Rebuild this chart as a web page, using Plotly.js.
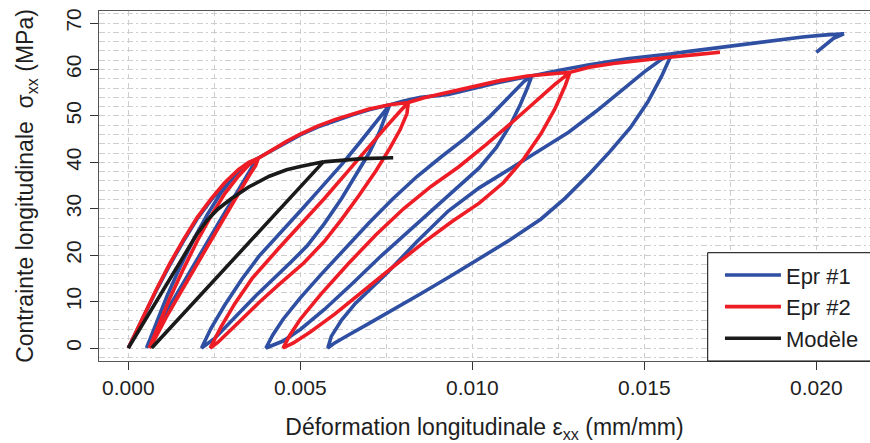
<!DOCTYPE html>
<html><head><meta charset="utf-8">
<script src="https://cdn.plot.ly/plotly-3.0.1.min.js"></script>
<style>html,body{margin:0;padding:0;background:#fff}#c{width:870px;height:443px}</style>
</head><body><div id="c"></div>
<script>
// Epr #1 (blue) path: envelope + 4 unload/reload loops + final hook
const epr1Strain = [0,0.0004,0.0008,0.0012,0.0016,0.0020,0.0024,0.0028,0.0032,0.0035,0.0037,
 0.0036,0.0034,0.0030,0.0026,0.0022,0.0018,0.00136,0.0010,0.0008,0.00065,0.00053,
 0.0007,0.0009,0.00112,0.0015,0.0019,0.0023,0.0027,0.0031,0.0034,0.0037,
 0.0042,0.0046,0.0050,0.0055,0.0060,0.0065,0.0070,0.0076,
 0.0075,0.0073,0.0070,0.0066,0.0062,0.0057,0.0052,0.0047,0.0042,0.0037,0.0032,0.0028,0.0025,0.00213,
 0.0024,0.0028,0.0033,0.0038,0.0044,0.0050,0.0056,0.0062,0.0067,0.0071,0.0074,0.0076,
 0.0080,0.0085,0.0093,0.0100,0.0107,0.0113,0.01173,
 0.0116,0.0114,0.0111,0.0107,0.0102,0.0096,0.0089,0.0081,0.0073,0.0065,0.0057,0.0050,0.0045,0.0040,
 0.0042,0.0045,0.0050,0.0056,0.0063,0.0070,0.0077,0.0084,0.0091,0.0098,0.0105,0.0111,0.0115,0.01173,
 0.0125,0.0134,0.0145,0.0158,
 0.0155,0.0151,0.0146,0.0140,0.0134,0.0127,0.0120,0.0111,0.0103,0.00935,0.0085,0.0077,0.0070,0.0064,0.0060,0.0058,
 0.0059,0.0062,0.0066,0.0075,0.0084,0.0093,0.0102,0.0111,0.0120,0.0128,0.0136,0.0144,0.0150,0.0155,0.0158,
 0.0163,0.0170,0.0177,0.0184,0.0190,0.0196,0.0202,0.0208,
 0.0205,0.0202,0.0200];
const epr1Stress = [0,6.2,12.2,17.8,23,27.8,31.8,35.3,38.1,39.8,40.5,
 39.0,36.6,31.6,26.6,21.6,16.5,11.1,6.5,3.6,1.4,0,
 3.2,7,11.1,17.4,23.4,28.8,33.5,37.2,39.4,40.6,
 42.6,44.3,45.9,47.6,49.0,50.2,51.3,52.4,
 50.5,46.5,42,37,32.2,26.8,22,18.3,14.8,11.2,7.4,4.3,2.0,0,
 4.2,9.2,14.8,19.8,24.6,29.5,34.5,39.5,44,47.6,50.4,52.4,
 53.2,54.0,54.6,55.9,57.1,58.0,58.6,
 56,52.5,48,43.2,38.8,34.8,30.3,25,19.5,13.8,8.3,4,1.5,0,
 2.8,6.2,10.8,15.8,21.5,27,32.2,37,41.2,45.2,49.8,54.5,57.4,58.6,
 59.8,61.0,62.3,63.4,
 58.5,53,47.5,42.3,37.5,32.3,27.8,23.3,19.6,15.4,11.7,8.2,5.3,2.8,1.1,0,
 2.5,6.0,9.6,16,23,29.5,34.5,38.6,42.8,46.5,51,56,59.5,62.2,63.4,
 63.9,64.6,65.2,65.8,66.4,67.0,67.4,67.7,
 66.7,65.0,63.7];

// Epr #2 (red) path
const epr2Strain = [0,0.0004,0.0008,0.0012,0.0016,0.0020,0.0024,0.0028,0.0032,0.0035,0.00378,
 0.0037,0.0035,0.0031,0.0027,0.0023,0.0019,0.00145,0.0011,0.0009,0.00073,0.00061,
 0.0008,0.0010,0.0012,0.0016,0.0020,0.0024,0.0028,0.0032,0.0035,0.00378,
 0.0042,0.0046,0.0050,0.0055,0.0060,0.0065,0.0070,0.0076,0.00814,
 0.0081,0.0079,0.0076,0.0072,0.0067,0.0062,0.0057,0.0051,0.0044,0.0038,0.0033,0.0029,0.0026,0.00238,
 0.0027,0.0031,0.0036,0.0044,0.0050,0.0057,0.0064,0.0070,0.0075,0.0079,0.00814,
 0.0086,0.0093,0.0100,0.0108,0.0116,0.0123,0.01284,
 0.0127,0.0124,0.0120,0.0115,0.0109,0.0102,0.0094,0.0086,0.0077,0.0068,0.0060,0.0053,0.0048,0.0045,
 0.0047,0.0050,0.0056,0.0064,0.0072,0.0080,0.0088,0.0096,0.0104,0.0112,0.0119,0.0124,0.01284,
 0.0134,0.0141,0.0149,0.0158,0.0165,0.0172];
const epr2Stress = [0,6.3,12.4,18.1,23.3,28.1,32.1,35.6,38.4,40,40.9,
 39.3,37,32,27,22,17,11.1,6.6,3.7,1.4,0,
 3.4,7,10.6,17,23,28.4,33.2,37,39.4,40.9,
 42.8,44.5,46.1,47.8,49.2,50.4,51.5,52.4,52.9,
 50.5,47,43,38.2,32.8,27.7,23,18.3,13.8,9.8,6.2,3.2,1.2,0,
 4.6,9.6,15,21.7,26.5,32.2,38.2,43.5,47.7,51,52.9,
 53.9,55.1,56.3,57.6,58.6,59.1,59.4,
 56.5,51.5,46.2,40.8,35.6,31.2,27.2,22.8,17.5,12,7.3,3.5,1.1,0,
 2.8,6.2,11.6,18.2,24.4,30,34.8,39,43.8,48.9,53.6,56.8,59.4,
 60.5,61.3,62,62.7,63.2,63.7];

// Modèle (black): loading curve, unloading line, then end of loading curve
const modelStrain = [0,0.0005,0.0010,0.0015,0.0020,0.0023,0.0026,0.0030,0.0035,0.0041,0.0046,0.0050,0.00567,
 0.00068, null,
 0.00567,0.0062,0.0068,0.0077];
const modelStress = [0,6.2,12.4,18.6,24.6,27.6,29.9,32.2,34.7,37.0,38.4,39.1,40.1,
 0, null,
 40.1,40.5,40.8,41.0];

const seriesNames = ['Epr #1','Epr #2','Modèle'];
const xTickVals = [0,0.005,0.010,0.015,0.020];
const xTickText = ['0.000','0.005','0.010','0.015','0.020'];
const yTickVals = [0,10,20,30,40,50,60,70];

const FONT = 'Liberation Sans, Arial, sans-serif';
const lw = 3.6;
const traces = [
 {x: epr1Strain, y: epr1Stress, name: seriesNames[0], mode:'lines', line:{color:'#2F4FA2', width:lw}},
 {x: epr2Strain, y: epr2Stress, name: seriesNames[1], mode:'lines', line:{color:'#EE1D25', width:lw}},
 {x: modelStrain, y: modelStress, name: seriesNames[2], mode:'lines', connectgaps:false, line:{color:'#1A1A1A', width:lw}}
];
const gridc = '#cdcdcd';
const layout = {
 width: 870, height: 443,
 margin: {l:99, r:0, t:11, b:82},
 paper_bgcolor:'#fff', plot_bgcolor:'#fff',
 font: {family: FONT, size: 21, color:'#1e1e1e'},
 showlegend: true,
 xaxis: {
  range: [-0.000852, 0.021561], tickmode:'array', tickvals: xTickVals, ticktext: xTickText,
  ticks:'outside', ticklen:8, tickwidth:1, tickcolor:'#333',
  showline:true, mirror:true, linecolor:'#555', linewidth:1.2,
  showgrid:true, gridcolor:gridc, griddash:'5px,4px', gridwidth:1,
  minor:{tickmode:'array', tickvals:[0.0025,0.0075,0.0125,0.0175,0.0225], showgrid:true, gridcolor:gridc, griddash:'5px,4px', ticks:''},
  zeroline:false, tickfont:{size:21},
  title:{text:'Déformation longitudinale ε<sub>xx</sub> (mm/mm)', font:{size:23}, standoff:20}
 },
 yaxis: {
  range: [-2.8, 72.6], tickmode:'array', tickvals: yTickVals, tickangle:-90,
  ticks:'outside', ticklen:8, tickwidth:1, tickcolor:'#333',
  showline:true, mirror:true, linecolor:'#555', linewidth:1.2,
  showgrid:true, gridcolor:gridc, griddash:'6px,3px,2px,3px', gridwidth:1,
  minor:{dtick:2, tick0:0, showgrid:true, gridcolor:gridc, griddash:'6px,3px,2px,3px', ticks:''},
  zeroline:false, tickfont:{size:21},
  title:{text:'Contrainte longitudinale \u00a0σ<sub>xx</sub> (MPa)', font:{size:23}, standoff:22}
 },
 shapes: [
  {type:'rect', xref:'paper', yref:'paper', x0:0.7895, x1:1.01, y0:0, y1:0.3094,
   fillcolor:'#fff', line:{color:'#000', width:1}, layer:'above'}
 ],
 legend: {x:0.8054, y:0.155, xanchor:'left', yanchor:'middle', bgcolor:'rgba(0,0,0,0)', borderwidth:0,
  font:{size:22, color:'#1e1e1e'}, tracegroupgap:0, itemwidth:56}
};
Plotly.newPlot('c', traces, layout, {displayModeBar:false, staticPlot:true});
</script></body></html>
